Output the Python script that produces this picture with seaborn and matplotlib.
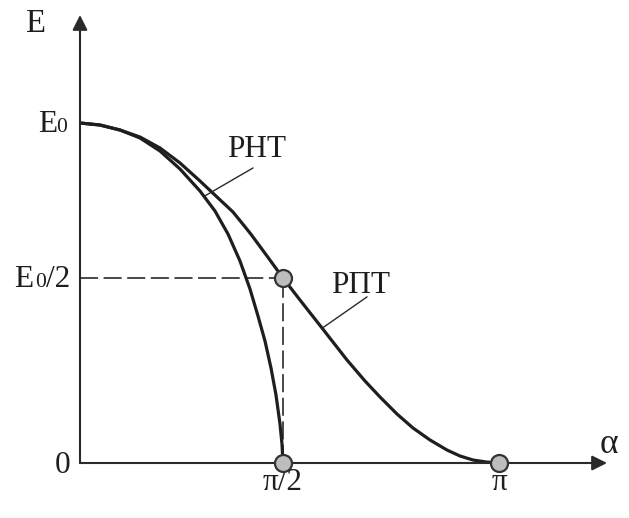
import numpy as np
import pandas as pd
import matplotlib
matplotlib.use("Agg")
import matplotlib.pyplot as plt
import seaborn as sns

# Angle alpha (rad) and field E (in units of E0) along each curve
alpha_pnt = [0.0, 0.1548, 0.3095, 0.4643, 0.6190, 0.7738, 0.9285, 1.0446,
             1.1452, 1.2380, 1.3154, 1.3773, 1.4315, 1.4779, 1.5166, 1.5476,
             1.5630, 1.5708]
e_pnt = [1.0, 0.9935, 0.9774, 0.9516, 0.9097, 0.8516, 0.7806, 0.7161,
         0.6419, 0.5548, 0.4703, 0.3973, 0.3297, 0.2568, 0.1838, 0.1054,
         0.0514, 0.0]

alpha_ppt = [0.0, 0.1548, 0.3095, 0.4643, 0.6190, 0.7738, 0.9285, 1.0601,
             1.1839, 1.3154, 1.4470, 1.5708, 1.6944, 1.8544, 2.0362, 2.1671,
             2.2762, 2.3998, 2.5162, 2.6398, 2.7634, 2.8580, 2.9525, 3.0470,
             3.1416]
e_ppt = [1.0, 0.9935, 0.9774, 0.9548, 0.9194, 0.8710, 0.8129, 0.7613,
         0.7129, 0.6452, 0.5710, 0.5000, 0.4405, 0.3649, 0.2784, 0.2216,
         0.1784, 0.1324, 0.0946, 0.0622, 0.0351, 0.0189, 0.0081, 0.0027,
         0.0]

curve_names = ["РНТ", "РПТ"]

# Marked points (alpha, E)
mark_alpha = [np.pi / 2, np.pi / 2, np.pi]
mark_e = [0.5, 0.0, 0.0]

sns.set_style("white")
plt.rcParams["font.family"] = ["Liberation Serif", "DejaVu Serif"]
plt.rcParams["lines.scale_dashes"] = False

INK = "#1e1e1e"
AX = "#2a2a2a"

df = pd.concat([
    pd.DataFrame({"alpha": alpha_pnt, "E": e_pnt, "curve": curve_names[0]}),
    pd.DataFrame({"alpha": alpha_ppt, "E": e_ppt, "curve": curve_names[1]}),
], ignore_index=True)

W, H = 629, 518
fig = plt.figure(figsize=(W / 100, H / 100), dpi=100)
L, R, B, T = 80, 607, 463, 15
ax = fig.add_axes([L / W, 1 - B / H, (R - L) / W, (B - T) / H])

# Schematic axes: piecewise-linear scales through 0, pi/2, pi and 0, E0/2, E0
xk = np.array([-10.0, 0.0, np.pi / 2, np.pi, 20.0])
xp = np.array([-1292.0, 0.0, 203.0, 419.0, 419.0 + 137.5 * (20.0 - np.pi)])
yk = np.array([-5.0, 0.0, 0.5, 1.0, 5.0])
yp = np.array([-1850.0, 0.0, 185.0, 340.0, 340.0 + 310.0 * 4])
ax.set_xscale("function", functions=(lambda v: np.interp(v, xk, xp),
                                     lambda v: np.interp(v, xp, xk)))
ax.set_yscale("function", functions=(lambda v: np.interp(v, yk, yp),
                                     lambda v: np.interp(v, yp, yk)))
ax.set_xlim(0, np.pi + (527 - 419) / 137.5)
ax.set_ylim(0, 1 + (448 - 340) / 310)

# Guide lines to the point (pi/2, E0/2)
ax.plot([0, np.pi / 2], [0.5, 0.5], color=AX, lw=1.2, ls=(0, (13, 4)), zorder=2)
ax.plot([np.pi / 2, np.pi / 2], [0, 0.5], color=AX, lw=1.2, ls=(0, (13, 4)), zorder=2)

sns.lineplot(data=df, x="alpha", y="E", hue="curve", palette=[INK, INK],
             estimator=None, sort=False, lw=2.3, legend=False, ax=ax, zorder=3)
for ln in ax.lines[-2:]:
    ln.set_solid_joinstyle("round")

ax.scatter(mark_alpha, mark_e, s=150, facecolor="#bdbdbd", edgecolor="#333333",
           linewidth=1.6, zorder=5, clip_on=False)

for sp in ax.spines.values():
    sp.set_visible(False)
ax.set_xticks([])
ax.set_yticks([])
ax.set_xlabel("")
ax.set_ylabel("")

arrow = dict(arrowstyle="-|>,head_length=0.9,head_width=0.45", color=AX,
             lw=1.5, mutation_scale=10, shrinkA=0, shrinkB=0)
ax.annotate("", xy=(0, 1), xytext=(0, 0), xycoords="axes fraction",
            textcoords="axes fraction", arrowprops=arrow, zorder=4)
ax.annotate("", xy=(1, 0), xytext=(0, 0), xycoords="axes fraction",
            textcoords="axes fraction", arrowprops=arrow, zorder=4)

BIG = 22.5
SMALL = 15.5
px = 0.72  # points per pixel


def put(text, x, y, dx, dy, size=BIG, ha="right"):
    ax.annotate(text, xy=(x, y), xytext=(dx * px, dy * px), textcoords="offset points",
                ha=ha, va="baseline", fontsize=size, color=INK, annotation_clip=False)


# Tick labels on the E axis
put("0", 0, 1.0, -13, -9, SMALL)
put("E", 0, 1.0, -23, -9)
put("/2", 0, 0.5, -10, -9)
put("0", 0, 0.5, -34, -9, SMALL)
put("E", 0, 0.5, -47, -9)
put("0", 0, 0.0, -10, -10)

# Tick labels on the alpha axis
put("π/2", np.pi / 2, 0, 0, -27, ha="center")
put("π", np.pi, 0, 0, -27, ha="center")

# Axis names
fig.text(26 / W, 1 - 32 / H, "E", fontsize=BIG + 1, color=INK, ha="left", va="baseline")
fig.text(600 / W, 1 - 453 / H, "α", fontsize=BIG + 3, color=INK, ha="left", va="baseline")

# Curve labels with leader lines
ax.text(1.370, 0.890, curve_names[0], fontsize=BIG, color=INK, ha="center", va="baseline")
ax.plot([1.339, 0.967], [0.855, 0.765], color=AX, lw=1.0, zorder=4)
ax.text(2.138, 0.459, curve_names[1], fontsize=BIG, color=INK, ha="center", va="baseline")
ax.plot([2.182, 1.862], [0.449, 0.366], color=AX, lw=1.0, zorder=4)

fig.savefig("out.png", dpi=100, facecolor="white")
